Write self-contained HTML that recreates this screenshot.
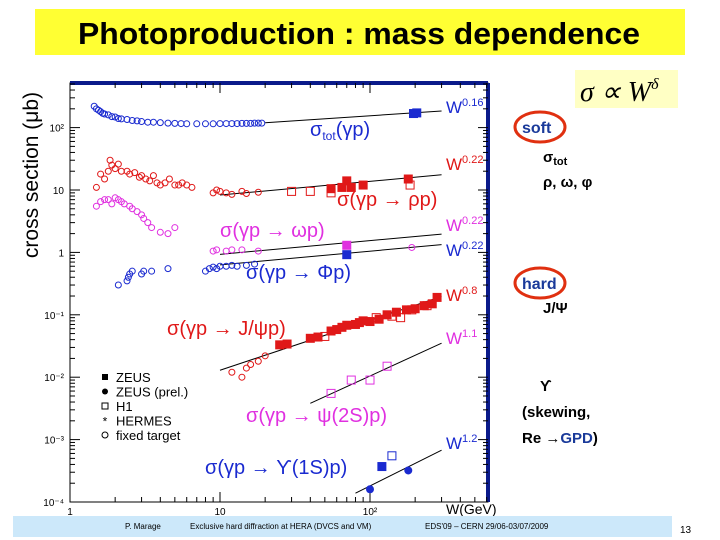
<!DOCTYPE html>
<html><head><meta charset="utf-8"><style>
body{margin:0;background:#fff;width:720px;height:540px;overflow:hidden;font-family:"Liberation Sans",sans-serif}
svg{position:absolute;left:0;top:0}
</style></head><body>
<svg id="s" width="720" height="540">
<rect x="35" y="9" width="650" height="46" fill="#ffff33"/>
<text x="359" y="44" font-size="31" font-weight="bold" text-anchor="middle" textLength="562" lengthAdjust="spacingAndGlyphs" font-family="Liberation Sans">Photoproduction : mass dependence</text>
<g id="plot"></g>
<rect x="575" y="70" width="103" height="38" fill="#ffffc4"/>
<text x="580" y="101" font-size="28" font-style="italic" font-family="Liberation Serif">σ ∝ W<tspan font-size="16" dy="-12">δ</tspan></text>
<ellipse cx="540" cy="127" rx="25" ry="15" fill="none" stroke="#e03010" stroke-width="3"/>
<text x="522" y="133" font-size="16" font-weight="bold" fill="#1a3a9a">soft</text>
<text x="543" y="162" font-size="15" font-weight="bold">σ<tspan font-size="11" dy="3">tot</tspan></text>
<text x="543" y="187" font-size="15" font-weight="bold">ρ, ω, φ</text>
<ellipse cx="540" cy="283" rx="25" ry="15" fill="none" stroke="#e03010" stroke-width="3"/>
<text x="522" y="289" font-size="16" font-weight="bold" fill="#1a3a9a">hard</text>
<text x="543" y="313" font-size="15" font-weight="bold">J/Ψ</text>
<text x="540" y="391" font-size="15" font-weight="bold">ϒ</text>
<text x="522" y="417" font-size="15" font-weight="bold">(skewing,</text>
<text x="522" y="443" font-size="15" font-weight="bold">Re →<tspan fill="#1a3a9a">GPD</tspan>)</text>
<rect x="13" y="516" width="659" height="21" fill="#cce8fa"/>
<text x="125" y="529" font-size="8">P. Marage</text>
<text x="190" y="529" font-size="8">Exclusive hard diffraction at HERA (DVCS and VM)</text>
<text x="425" y="529" font-size="8">EDS'09 – CERN 29/06-03/07/2009</text>
<text x="680" y="533" font-size="10">13</text>
</svg>
<script>
// axis data
const xTicks=[1,10,100];
const xTickLabels=["1","10","10²"];
const yTicks=[1e-4,1e-3,1e-2,1e-1,1,10,100];
const yTickLabels=["10⁻⁴","10⁻³","10⁻²","10⁻¹","1","10","10²"];
// fit lines: [Wmin, Wmax, A, delta]
const fitTot=[20,300,74,0.16];
const fitRho=[10,300,5.0,0.22];
const fitOmega=[10,300,0.56,0.22];
const fitPhi=[10,300,0.38,0.22];
const fitJpsi=[10,300,0.00205,0.8];
const fitPsi2S=[40,300,6.6e-5,1.1];
const fitUps=[80,300,7.2e-7,1.2];
// series points
const totW=[1.45,1.5,1.55,1.6,1.65,1.7,1.8,1.9,2,2.1,2.2,2.4,2.6,2.8,3,3.3,3.6,4,4.5,5,5.5,6,7,8,9,10,11,12,13,14,15,16,17,18,19];
const totS=[220,200,190,180,170,165,160,150,148,140,138,135,130,128,125,122,122,120,118,117,116,115,115,115,115,116,116,116,116,117,117,117,118,118,118];
const totHW=[195,205];const totHS=[168,172];
const rhoW=[1.5,1.6,1.7,1.8,1.85,1.9,2,2.1,2.2,2.4,2.5,2.7,2.9,3,3.2,3.4,3.6,3.8,4,4.3,4.6,5,5.3,5.6,6,6.5,9,9.5,10,11,12,14,15,18];
const rhoS=[11,18,15,20,30,25,22,26,20,20,18,19,16,17,15,14,17,13,12,13,15,12,12,13,12,11,9,10,9.5,9,8.5,9.5,8.8,9.2];
const rhoZW=[55,65,70,75,90,180];const rhoZS=[10.5,11,14,11,12,15];
const rhoHW=[30,40,55,185];const rhoHS=[9.5,9.5,9,12];
const omegaW=[1.5,1.6,1.7,1.8,1.9,2,2.1,2.2,2.3,2.5,2.6,2.8,3,3.1,3.3,3.5,4,4.5,5,9,9.5,11,12,14,18];
const omegaS=[5.5,6.5,7,7,6,7.5,7,6.5,6,5.5,5,4.5,4,3.5,3,2.5,2.1,2,2.5,1.05,1.1,1.05,1.1,1.1,1.05];
const omegaZW=[70];const omegaZS=[1.3];const omegaHW=[190];const omegaHS=[1.2];
const phiW=[2.1,2.4,2.45,2.5,2.6,3,3.1,3.5,4.5,8,8.5,9,9.5,10,11,12,13,15,17];
const phiS=[0.3,0.35,0.4,0.45,0.5,0.45,0.5,0.5,0.55,0.5,0.55,0.58,0.55,0.6,0.6,0.62,0.6,0.62,0.65];
const phiZW=[70];const phiZS=[0.92];
const jpsiFW=[12,14,15,16,18,20];
const jpsiFS=[0.012,0.01,0.014,0.016,0.018,0.022];
const jpsiZW=[25,28,40,45,55,60,65,70,80,85,90,100,115,130,150,175,200,230,260,280];
const jpsiZS=[0.033,0.034,0.042,0.044,0.055,0.058,0.063,0.068,0.07,0.075,0.08,0.078,0.085,0.1,0.11,0.12,0.125,0.14,0.15,0.19];
const jpsiHW=[50,110,140,160,190,240];const jpsiHS=[0.045,0.09,0.095,0.09,0.12,0.14];
const psiW=[55,75,100,130];const psiS=[0.0055,0.009,0.009,0.015];
const upsZW=[120];const upsZS=[3.7e-4];const upsPW=[100,180];const upsPS=[1.6e-4,3.2e-4];const upsHW=[140];const upsHS=[5.5e-4];

const NS="http://www.w3.org/2000/svg";
const g=document.getElementById('plot');
const L=70,R=488,T=83,B=502;
const X=w=>L+150*Math.log10(w);
const Y=s=>B-62.4*(Math.log10(s)+4);
function mk(tag,a,name,parent){const e=document.createElementNS(NS,tag);for(const k in a)e.setAttribute(k,a[k]);


(parent||g).appendChild(e);return e;}
mk('rect',{x:L,y:T,width:R-L,height:B-T,fill:'#fff',stroke:'#000','stroke-width':1},'plot-frame');
mk('line',{x1:L,y1:T,x2:R,y2:T,stroke:'#0a1a8a','stroke-width':4},'frame-top');
mk('line',{x1:R,y1:T,x2:R,y2:B,stroke:'#0a1a8a','stroke-width':4},'frame-right');
for(let d=0;d<3;d++)for(let m=1;m<10;m++){const w=Math.pow(10,d)*m;const x=X(w);if(x>R)continue;const len=m==1?10:5;
mk('line',{x1:x,y1:B,x2:x,y2:B-len,stroke:'#000'},'x-tick');mk('line',{x1:x,y1:T,x2:x,y2:T+len,stroke:'#000'},'x-tick-top');}
for(let d=-4;d<3;d++)for(let m=1;m<10;m++){const s=Math.pow(10,d)*m;const y=Y(s);if(y<T)continue;const len=m==1?10:5;
mk('line',{x1:L,y1:y,x2:L+len,y2:y,stroke:'#000'},'y-tick');mk('line',{x1:R,y1:y,x2:R-len,y2:y,stroke:'#000'},'y-tick-right');}
xTicks.forEach((w,i)=>{const t=mk('text',{x:X(w),y:515,'font-size':10,'text-anchor':'middle'},'x-tick-label');t.textContent=xTickLabels[i];});
yTicks.forEach((s,i)=>{const t=mk('text',{x:64,y:Y(s)+4,'font-size':10,'text-anchor':'end'},'y-tick-label');t.textContent=yTickLabels[i];});
let t=mk('text',{x:446,y:514,'font-size':14},'x-axis-title');t.textContent='W(GeV)';
t=mk('text',{x:0,y:0,'font-size':21,'text-anchor':'middle',transform:'translate(38,175) rotate(-90)'},'y-axis-title');t.textContent='cross section (μb)';
function fit(f,c,name){mk('line',{x1:X(f[0]),y1:Y(f[2]*Math.pow(f[0],f[3])),x2:X(f[1]),y2:Y(f[2]*Math.pow(f[1],f[3])),stroke:'#000','stroke-width':1},name);}
[[fitTot,'fit-tot'],[fitRho,'fit-rho'],[fitOmega,'fit-omega'],[fitPhi,'fit-phi'],[fitJpsi,'fit-jpsi'],[fitPsi2S,'fit-psi2s'],[fitUps,'fit-upsilon']].forEach(a=>fit(a[0],'#000',a[1]));
function pts(W,S,type,c,name){W.forEach((w,i)=>{const x=X(w),y=Y(S[i]);
if(type=='oc')mk('circle',{cx:x,cy:y,r:3,fill:'none',stroke:c,'stroke-width':1},name);
else if(type=='fc')mk('circle',{cx:x,cy:y,r:4,fill:c},name);
else if(type=='fs')mk('rect',{x:x-4.5,y:y-4.5,width:9,height:9,fill:c},name);
else mk('rect',{x:x-4,y:y-4,width:8,height:8,fill:'none',stroke:c,'stroke-width':1},name);});}
const BL='#1a2ad0',RD='#e01818',MG='#e030e0';
pts(totW,totS,'oc',BL,'tot-point');pts(totHW,totHS,'fs',BL,'tot-hera-point');
pts(rhoW,rhoS,'oc',RD,'rho-point');pts(rhoHW,rhoHS,'os',RD,'rho-h1-point');pts(rhoZW,rhoZS,'fs',RD,'rho-zeus-point');
pts(omegaW,omegaS,'oc',MG,'omega-point');pts(omegaZW,omegaZS,'fs',MG,'omega-zeus-point');pts(omegaHW,omegaHS,'oc',MG,'omega-h1-point');
pts(phiW,phiS,'oc',BL,'phi-point');pts(phiZW,phiZS,'fs',BL,'phi-zeus-point');
pts(jpsiFW,jpsiFS,'oc',RD,'jpsi-fixed-point');pts(jpsiHW,jpsiHS,'os',RD,'jpsi-h1-point');pts(jpsiZW,jpsiZS,'fs',RD,'jpsi-zeus-point');
pts(psiW,psiS,'os',MG,'psi2s-point');
pts(upsZW,upsZS,'fs',BL,'upsilon-zeus-point');pts(upsPW,upsPS,'fc',BL,'upsilon-prel-point');pts(upsHW,upsHS,'os',BL,'upsilon-h1-point');
function lab(x,y,c,txt,name){const e=mk('text',{x:x,y:y,'font-size':20,fill:c},name);e.innerHTML=txt;}
lab(310,136,BL,'σ<tspan font-size="12" dy="4">tot</tspan><tspan dy="-4">(γp)</tspan>','label-tot');
lab(337,206,RD,'σ(γp → ρp)','label-rho');
lab(220,237,MG,'σ(γp → ωp)','label-omega');
lab(246,279,BL,'σ(γp → Φp)','label-phi');
lab(167,335,RD,'σ(γp → J/ψp)','label-jpsi');
lab(246,422,MG,'σ(γp → ψ(2S)p)','label-psi2s');
lab(205,474,BL,'σ(γp → ϒ(1S)p)','label-upsilon');
function wl(y,c,e,name){const t=mk('text',{x:446,y:y,'font-size':17,fill:c},name);t.innerHTML='W<tspan font-size="11" dy="-7">'+e+'</tspan>';}
wl(113,BL,'0.16','w-tot');wl(170,RD,'0.22','w-rho');wl(231,MG,'0.22','w-omega');wl(256,BL,'0.22','w-phi');wl(301,RD,'0.8','w-jpsi');wl(344,MG,'1.1','w-psi2s');wl(449,BL,'1.2','w-upsilon');
const leg=[['fs','ZEUS'],['fc','ZEUS (prel.)'],['os','H1'],['st','HERMES'],['oc','fixed target']];
leg.forEach((l,i)=>{const y=377+i*14.5;const x=105;
if(l[0]=='fs')mk('rect',{x:x-3,y:y-3,width:6,height:6,fill:'#000'},'legend-marker');
else if(l[0]=='fc')mk('circle',{cx:x,cy:y,r:3,fill:'#000'},'legend-marker');
else if(l[0]=='os')mk('rect',{x:x-3,y:y-3,width:6,height:6,fill:'none',stroke:'#000'},'legend-marker');
else if(l[0]=='oc')mk('circle',{cx:x,cy:y,r:3,fill:'none',stroke:'#000'},'legend-marker');
else {const s=mk('text',{x:x,y:y+5,'font-size':12,'text-anchor':'middle'},'legend-marker');s.textContent='*';}
const tx=mk('text',{x:116,y:y+5,'font-size':13},'legend-entry');tx.textContent=l[1];});
</script>
</body></html>
